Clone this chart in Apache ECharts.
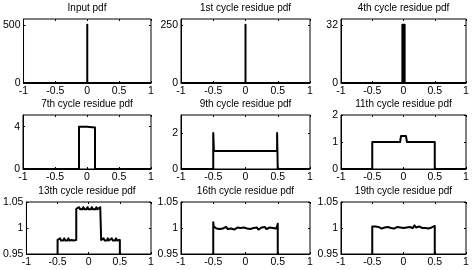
<!DOCTYPE html>
<html>
<head>
<meta charset="utf-8">
<script src="https://cdn.jsdelivr.net/npm/echarts@6/dist/echarts.min.js"></script>
<style>
html, body { margin: 0; padding: 0; background: #fff; }
#chart { width: 473px; height: 270px; }
</style>
</head>
<body>
<div id="chart"></div>
<script>
const titles = [
  'Input pdf', '1st cycle residue pdf', '4th cycle residue pdf',
  '7th cycle residue pdf', '9th cycle residue pdf', '11th cycle residue pdf',
  '13th cycle residue pdf', '16th cycle residue pdf', '19th cycle residue pdf'
];

// y range and labelled ticks for each panel
const yMin = [0, 0, 0, 0, 0, 0, 0.95, 0.95, 0.95];
const yMax = [550, 275, 35.2, 5.1, 3, 2, 1.05, 1.05, 1.05];
const yTicks = [
  [0, 500], [0, 250], [0, 32],
  [0, 4], [0, 2], [0, 1, 2],
  [0.95, 1, 1.05], [0.95, 1, 1.05], [0.95, 1, 1.05]
];

// panel data (x, pdf)
const inputX = [-1, 0, 0, 0, 1];
const inputY = [0, 0, 500, 0, 0];

const cycle1X = [-1, 0, 0, 0, 1];
const cycle1Y = [0, 0, 250, 0, 0];

const cycle4X = [-1, -0.018, -0.018, 0.018, 0.018, 1];
const cycle4Y = [0, 0, 32, 32, 0, 0];

const cycle7X = [-1, -0.125, -0.125, 0, 0, 0.125, 0.125, 1];
const cycle7Y = [0, 0, 4.0, 4.0, 3.92, 3.92, 0, 0];

const cycle9X = [-1, -0.5, -0.5, -0.49, -0.49, 0.49, 0.49, 0.5, 0.5, 1];
const cycle9Y = [0, 0, 2, 2, 1, 1, 2, 2, 0, 0];

const cycle11X = [-1, -0.5, -0.5, -0.055, -0.04, 0.04, 0.055, 0.5, 0.5, 1];
const cycle11Y = [0, 0, 1, 1, 1.22, 1.22, 1, 1, 0, 0];

const cycle13X = [-1, -0.5, -0.5, -0.477, -0.46, -0.443, -0.41, -0.393, -0.376, -0.343, -0.326, -0.309,
  -0.276, -0.259, -0.242, -0.22, -0.2, -0.2, -0.172, -0.155, -0.138, -0.104, -0.087, -0.07, -0.036,
  -0.019, -0.002, 0.033, 0.05, 0.067, 0.106, 0.123, 0.14, 0.17, 0.185, 0.2, 0.2, 0.222, 0.239, 0.256,
  0.29, 0.307, 0.324, 0.353, 0.37, 0.387, 0.421, 0.438, 0.455, 0.5, 0.5, 1];
const cycle13Y = [0, 0, 0.977, 0.976, 0.980, 0.976, 0.976, 0.980, 0.976, 0.976, 0.980, 0.976,
  0.977, 0.980, 0.976, 0.977, 0.977, 1.037, 1.036, 1.040, 1.036, 1.036, 1.040, 1.036, 1.036,
  1.040, 1.036, 1.036, 1.040, 1.036, 1.036, 1.040, 1.036, 1.037, 1.040, 1.037, 0.977, 0.976, 0.980, 0.976,
  0.976, 0.980, 0.976, 0.976, 0.980, 0.976, 0.976, 0.980, 0.976, 0.977, 0, 0];

const cycle16X = [-1, -0.5, -0.5, -0.492, -0.475, -0.45, -0.425, -0.4, -0.375, -0.35, -0.325, -0.3, -0.275,
  -0.25, -0.225, -0.2, -0.175, -0.15, -0.125, -0.1, -0.075, -0.05, -0.025, 0, 0.025, 0.05, 0.075,
  0.1, 0.125, 0.15, 0.175, 0.2, 0.225, 0.25, 0.275, 0.3, 0.325, 0.35, 0.375, 0.4, 0.425, 0.45,
  0.475, 0.492, 0.5, 0.5, 1];
const cycle16Y = [0, 0, 1.011, 1.003, 1.001, 0.999, 1.000, 0.998, 1.001, 0.999, 1.000, 1.002, 0.998,
  1.000, 0.999, 1.001, 0.997, 1.000, 1.001, 0.999, 1.000, 0.998, 1.001, 1.000, 0.999, 1.001, 0.998,
  1.000, 1.000, 0.999, 1.001, 0.997, 1.000, 1.001, 0.999, 1.002, 0.998, 1.000, 1.001, 0.999, 1.000, 1.002,
  0.999, 1.004, 1.008, 0, 0];

const cycle19X = [-1, -0.5, -0.5, -0.475, -0.45, -0.425, -0.4, -0.375, -0.35, -0.325, -0.3, -0.275,
  -0.25, -0.225, -0.2, -0.175, -0.15, -0.125, -0.1, -0.075, -0.05, -0.025, 0, 0.025, 0.05, 0.075,
  0.1, 0.125, 0.15, 0.175, 0.2, 0.225, 0.25, 0.275, 0.3, 0.325, 0.35, 0.375, 0.4, 0.425, 0.45,
  0.475, 0.5, 0.5, 1];
const cycle19Y = [0, 0, 1.003, 1.001, 1.003, 1.000, 1.002, 1.000, 0.999, 1.002, 1.001, 1.000,
  1.002, 1.001, 1.000, 1.002, 0.999, 1.001, 1.002, 1.000, 1.001, 1.003, 1.000, 1.002, 1.001, 0.999,
  1.002, 1.004, 1.000, 1.005, 1.001, 0.998, 1.003, 1.001, 1.000, 1.002, 1.000, 1.001, 0.999, 1.002,
  1.001, 1.003, 1.004, 0, 0];

const panelX = [inputX, cycle1X, cycle4X, cycle7X, cycle9X, cycle11X, cycle13X, cycle16X, cycle19X];
const panelY = [inputY, cycle1Y, cycle4Y, cycle7Y, cycle9Y, cycle11Y, cycle13Y, cycle16Y, cycle19Y];

// layout (px)
const colLeft = [23, 181, 341];
const colWidth = [128, 129, 125];
const rowTop = [19, 115, 202];
const rowHeight = [64, 54, 52];

const font = 'Liberation Sans, Arial, Helvetica, sans-serif';
const chart = echarts.init(document.getElementById('chart'));

const grid = [];
const xAxis = [];
const yAxis = [];
const title = [];
const series = [];

function axisBase(gridIndex) {
  return {
    gridIndex: gridIndex,
    type: 'value',
    splitLine: { show: false },
    axisLine: { show: true, onZero: false, lineStyle: { color: '#000', width: 1 } },
    axisTick: { show: true, inside: true, length: 2, lineStyle: { color: '#000' } },
    axisLabel: { color: '#000', fontSize: 10.5, fontFamily: font, margin: 3 }
  };
}

for (let i = 0; i < 9; i++) {
  const r = Math.floor(i / 3);
  const c = i % 3;
  grid.push({
    left: colLeft[c], top: rowTop[r], width: colWidth[c], height: rowHeight[r],
    show: true, borderColor: '#000', borderWidth: 1, backgroundColor: '#fff'
  });
  title.push({
    text: titles[i],
    left: colLeft[c] + colWidth[c] / 2,
    top: rowTop[r] - 16,
    textAlign: 'center',
    padding: 0,
    textStyle: { fontSize: 10, fontWeight: 'normal', color: '#000', fontFamily: font }
  });
  xAxis.push(Object.assign(axisBase(i), { position: 'bottom', min: -1, max: 1, interval: 0.5 }));
  const y = axisBase(i);
  y.position = 'left';
  y.min = yMin[i];
  y.max = yMax[i];
  y.axisTick.customValues = yTicks[i];
  y.axisLabel.customValues = yTicks[i];
  yAxis.push(y);

  const s = {
    type: 'line',
    xAxisIndex: i,
    yAxisIndex: i,
    data: panelX[i].map((x, k) => [x, panelY[i][k]]),
    showSymbol: false,
    clip: true,
    lineStyle: { color: '#000', width: 2, join: 'round' },
    animation: false
  };
  // the 4th-cycle spike is a narrow solid bar
  if (i === 2) s.areaStyle = { color: '#000', opacity: 1 };
  series.push(s);
}

// mirrored ticks on the top and right edges
for (let i = 0; i < 9; i++) {
  const xt = axisBase(i);
  xt.position = 'top';
  xt.min = -1; xt.max = 1; xt.interval = 0.5;
  xt.axisLine.show = false;
  xt.axisLabel = { show: false };
  xAxis.push(xt);
  const yr = axisBase(i);
  yr.position = 'right';
  yr.min = yMin[i]; yr.max = yMax[i];
  yr.axisLine.show = false;
  yr.axisTick.customValues = yTicks[i];
  yr.axisLabel = { show: false };
  yAxis.push(yr);
}

chart.setOption({
  backgroundColor: '#fff',
  animation: false,
  title: title,
  grid: grid,
  xAxis: xAxis,
  yAxis: yAxis,
  series: series
});
</script>
</body>
</html>
